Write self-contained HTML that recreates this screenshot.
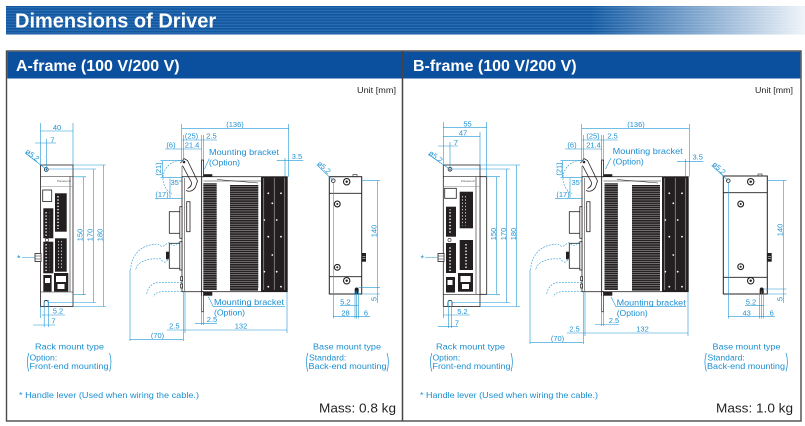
<!DOCTYPE html>
<html><head><meta charset="utf-8"><title>Dimensions of Driver</title>
<style>
html,body{margin:0;padding:0;background:#fff;width:805px;height:426px;overflow:hidden}
svg{display:block}
text{font-family:"Liberation Sans",Arial,sans-serif}
.d{fill:#1d92d3;font-size:7.5px}
.dm{fill:#1d92d3;font-size:7.5px;text-anchor:middle}
.l{fill:#1b8fd2;font-size:8.6px}
</style></head><body>
<svg width="805" height="426" viewBox="0 0 805 426" xmlns="http://www.w3.org/2000/svg">
<defs>
 <pattern id="stripes" width="10" height="2.8" patternUnits="userSpaceOnUse">
  <rect width="10" height="2.8" fill="#11579f"/>
  <rect y="1.7" width="10" height="0.9" fill="#3576ba"/>
 </pattern>
 <linearGradient id="fade" x1="0" x2="1" y1="0" y2="0">
  <stop offset="0" stop-color="#fff" stop-opacity="0"/>
  <stop offset="1" stop-color="#fff" stop-opacity="0.93"/>
 </linearGradient>
 <pattern id="fins" width="6" height="2.2" patternUnits="userSpaceOnUse">
  <rect width="6" height="2.2" fill="#231f20"/>
  <rect y="1.7" width="6" height="0.45" fill="#c8c8c8"/>
 </pattern>
 <pattern id="slot" width="4" height="3.2" patternUnits="userSpaceOnUse">
  <rect width="4" height="3.2" fill="#231f20"/>
  <rect x="1.2" y="1" width="1.6" height="1.2" fill="#fff"/>
 </pattern>
</defs>

<!-- Title band -->
<rect x="6" y="6" width="799" height="28.5" fill="url(#stripes)"/>
<rect x="590" y="6" width="215" height="28.5" fill="url(#fade)"/>
<text x="15" y="27.7" font-size="20" font-weight="bold" fill="#fff">Dimensions of Driver</text>

<!-- Panels -->
<rect x="6.5" y="51" width="794.5" height="370" fill="#fff" stroke="#4a4a4a" stroke-width="1.4"/>
<rect x="7.2" y="51.7" width="793.1" height="26.8" fill="#0b4f9f"/>
<line x1="402.5" y1="51" x2="402.5" y2="421" stroke="#444" stroke-width="1.5"/>
<text x="16" y="71" font-size="16" font-weight="bold" fill="#fff">A-frame (100 V/200 V)</text>
<text x="413" y="71" font-size="16" font-weight="bold" fill="#fff">B-frame (100 V/200 V)</text>
<text x="357" y="93" font-size="8.5" fill="#231f20" textLength="39" lengthAdjust="spacingAndGlyphs">Unit [mm]</text>
<text x="755" y="93" font-size="8.5" fill="#231f20" textLength="38" lengthAdjust="spacingAndGlyphs">Unit [mm]</text>

<!-- ================= A FRAME ================= -->
<!-- Front view A -->
<g stroke="#231f20" stroke-width="0.8" fill="#fff">
 <rect x="40.5" y="165" width="32.5" height="141.5"/>
 <rect x="35" y="253.5" width="6" height="8"/>
</g>
<path d="M40.5 176.5H73M40.5 292H73M70 176.5V292M35 256H41M35 259H41" stroke="#231f20" stroke-width="0.6" fill="none"/>
<path d="M41 186.7H73" stroke="#888" stroke-width="0.5"/>
<circle cx="46.3" cy="169.5" r="1.9" fill="none" stroke="#231f20" stroke-width="0.8"/>
<circle cx="46.3" cy="169.5" r="0.7" fill="#231f20"/>
<path d="M44.2 306.5V302.5a2.05 2.05 0 0 1 4.1 0V306.5" fill="none" stroke="#231f20" stroke-width="0.8"/>
<rect x="42.7" y="190" width="9" height="11.5" fill="none" stroke="#231f20" stroke-width="0.8"/>
<text x="57" y="182" font-size="3" fill="#555">Panasonic</text>
<g fill="#231f20">
 <rect x="55" y="193.3" width="11.7" height="38.4"/>
 <rect x="43.3" y="208.3" width="10" height="30"/>
 <rect x="55" y="238.3" width="11.7" height="33.4"/>
 <rect x="43.3" y="241.7" width="10" height="31.6"/>
 <rect x="43.3" y="275" width="8.3" height="16.7"/>
 <rect x="54" y="273" width="14.3" height="18.7"/>
</g>
<g fill="url(#slot)">
 <rect x="57" y="196" width="4" height="33"/>
 <rect x="45.3" y="211" width="4" height="25"/>
 <rect x="58" y="241" width="4" height="28"/>
 <rect x="45.3" y="244" width="4" height="27"/>
</g>
<g fill="#fff">
 <rect x="56" y="276" width="10" height="6"/>
 <rect x="57.5" y="284" width="7" height="5"/>
 <rect x="45" y="278" width="5" height="5"/>
</g>
<circle cx="47" cy="240" r="1.6" fill="#fff" stroke="#231f20" stroke-width="0.6"/>

<g stroke="#1f96d3" stroke-width="0.6" fill="none">
 <path d="M40.5 123V165M73 123V165M40.5 131H73M35 143H56M46.3 139V172M25 153L45 168.3"/>
 <path d="M73 165H106M49 169H96M73 176.8H86M73 294.7H86M48.5 302.5H96M73 306.5H106"/>
 <path d="M83.3 176.8V294.7M93.3 169V302.5M103.3 165V306.5"/>
 <path d="M41.7 315H65M33 325H55M40.5 306.5V318M44.2 300V327M48.3 300V327M22 257.5H35"/>
</g>
<text class="dm" x="57" y="129.8">40</text>
<text class="dm" x="52.5" y="142.3">7</text>
<text class="d" transform="translate(25 152.5) rotate(38)">ø5.2</text>
<text class="dm" transform="translate(82.5 235) rotate(-90)">150</text>
<text class="dm" transform="translate(92.5 235) rotate(-90)">170</text>
<text class="dm" transform="translate(102.5 235) rotate(-90)">180</text>
<text class="dm" x="58" y="313.6">5.2</text>
<text class="dm" x="53.5" y="323.6">7</text>
<text x="17" y="261.5" font-size="9" fill="#1b8fd2">*</text>

<!-- Side view A -->
<g id="sideA">
<g stroke="#231f20" stroke-width="0.8" fill="#fff">
 <rect x="182" y="176.7" width="19.7" height="115"/>
 <rect x="201.7" y="176.7" width="85.6" height="115"/>
 <rect x="169.3" y="211.7" width="10.7" height="21.6"/>
 <rect x="179.8" y="206.7" width="2.2" height="31.6"/>
 <rect x="169.3" y="243.3" width="10.7" height="25"/>
 <rect x="179.8" y="241.7" width="2.2" height="28.3"/>
 <rect x="186.7" y="201.7" width="3.3" height="30"/>
 <rect x="201.6" y="160" width="2" height="16.7"/>
 <rect x="201.6" y="291.7" width="2" height="20"/>
 <rect x="180.7" y="276.7" width="1.8" height="4"/>
 <rect x="180.7" y="284" width="1.8" height="4"/>
</g>
<rect x="166" y="251.7" width="3.5" height="7.6" fill="#231f20"/>
<path d="M184.5 178V291M182 166V177M203.5 181H261M217 179.5L258 183" stroke="#231f20" stroke-width="0.5" fill="none"/>
<path d="M180.5 163L184 158.5L187.5 160.5L197.5 181L195.5 187Q192 193 186 190.5M182.5 165.5L191.5 182.5Q192 186.5 187.5 188.5" stroke="#231f20" stroke-width="0.8" fill="none"/>
<circle cx="184" cy="162" r="1.3" fill="#231f20"/>
<rect x="203.3" y="183.3" width="13.4" height="106.7" fill="url(#fins)"/>
<rect x="230" y="185" width="28.3" height="103.3" fill="url(#fins)"/>
<rect x="261" y="176.7" width="26.3" height="115" fill="#231f20"/>
<path d="M263.8 178V290M274.2 178V290M284.8 178V290" stroke="#fff" stroke-width="0.4"/>
<g fill="#fff">
 <circle cx="268.3" cy="193.3" r="0.9"/><circle cx="281" cy="193.3" r="0.9"/>
 <circle cx="272.3" cy="203.3" r="0.9"/><circle cx="264.3" cy="220" r="0.9"/>
 <circle cx="276.7" cy="220" r="0.9"/><circle cx="268.3" cy="236.7" r="0.9"/>
 <circle cx="281" cy="236.7" r="0.9"/><circle cx="272.3" cy="255" r="0.9"/>
 <circle cx="264.3" cy="271.7" r="0.9"/><circle cx="276.7" cy="271.7" r="0.9"/>
 <circle cx="268.3" cy="286.7" r="0.9"/><circle cx="281" cy="286.7" r="0.9"/>
</g>
<rect x="203.3" y="174.2" width="9" height="2.5" fill="#231f20"/>
<rect x="203.3" y="291.7" width="9" height="4" fill="#231f20"/>
<rect x="230" y="288.3" width="28" height="2.3" fill="#231f20"/>
<g stroke="#1f96d3" stroke-width="0.6" fill="none" stroke-dasharray="1.8 1.2">
 <path d="M180 242.5c-3 -1 -4 4 -7 3s-3 -4 -6 -2 -4 4 -7 2 -3 -2 -5 -1C140 245 131 256 130.7 270"/>
 <path d="M170 258c-2 0 -3 5 -6 4s-3 -5 -6 -3C147 258 137 262 135.5 270"/>
 <path d="M181.7 282.7H158C151 283 147 289 146.7 295"/>
 <path d="M181.7 291.7H162C157 292 154 294 153.3 296.7"/>
 <path d="M183 160.5A18 18 0 0 0 172 194"/>
</g>
<g stroke="#1f96d3" stroke-width="0.6" fill="none">
 <path d="M181.7 124V162M288.7 124V176.7M181.7 128.3H288.7M181.7 140H217M165 149H201.7"/>
 <path d="M183.5 135V162M201.7 135V160M203.6 135V160"/>
 <path d="M160.5 160.7H182M160.5 177.3H183M162.3 160.7V177.3M155 198.3H183M170 178.3V198.3"/>
 <path d="M204.5 169L209.3 158.5M276.7 160.7H303.3M285 158V176.7"/>
 <path d="M201.7 296V325M203.6 296V325M195 323.3H217"/>
</g>
</g>
<g stroke="#1f96d3" stroke-width="0.6" fill="none">
 <path d="M208.3 296.7L213.3 306.7H285"/>
 <path d="M130 270V341M183.3 292V341M185 292V333M287 292V333M166.7 330H287M130 339.3H183.3"/>
</g>
<text class="dm" x="235" y="126.8">(136)</text>
<text class="dm" x="191.5" y="138.5">(25)</text>
<text class="dm" x="211.5" y="138.5">2.5</text>
<text class="dm" x="171" y="147.5">(6)</text>
<text class="dm" x="192" y="147.5">21.4</text>
<text class="dm" x="297" y="158.8">3.5</text>
<text class="dm" transform="translate(161 169) rotate(-90)">(21)</text>
<text class="d" x="170.5" y="185">35°</text>
<text class="dm" x="162" y="196.8">(17)</text>
<text class="dm" x="212" y="321.8">2.5</text>
<text class="dm" x="174.3" y="328.5">2.5</text>
<text class="dm" x="241" y="328.5">132</text>
<text class="dm" x="157.5" y="337.8">(70)</text>
<text class="l" x="209" y="155" textLength="70" lengthAdjust="spacingAndGlyphs">Mounting bracket</text>
<text class="l" x="209" y="165.3">(Option)</text>
<text class="l" x="214" y="305" textLength="70" lengthAdjust="spacingAndGlyphs">Mounting bracket</text>
<text class="l" x="214" y="315.5">(Option)</text>

<!-- Base view A -->
<rect x="329.3" y="176.7" width="32.4" height="117.3" stroke="#231f20" stroke-width="1" fill="#fff"/>
<path d="M329.3 193.3H361.7M329.3 276.7H361.7" stroke="#231f20" stroke-width="0.8"/>
<rect x="353" y="174.5" width="4" height="2.2" fill="none" stroke="#231f20" stroke-width="0.6"/>
<circle cx="333.3" cy="180.7" r="1.8" fill="none" stroke="#231f20" stroke-width="0.8"/>
<g fill="#fff" stroke="#231f20" stroke-width="1.1">
 <circle cx="346.7" cy="181.7" r="3.2"/><circle cx="337.3" cy="204" r="2.9"/>
 <circle cx="337.3" cy="267.3" r="2.9"/><circle cx="346.7" cy="280.7" r="3.2"/>
</g>
<g fill="#231f20">
 <circle cx="346.7" cy="181.7" r="1.2"/><circle cx="337.3" cy="204" r="1"/>
 <circle cx="337.3" cy="267.3" r="1"/><circle cx="346.7" cy="280.7" r="1.2"/>
 <path d="M354.7 294V289.5a2 2 0 0 1 4 0V294Z"/>
 <rect x="361.7" y="253" width="4.3" height="8.7"/>
</g>
<path d="M362.5 256.5H365.5M362.5 258.5H365.5" stroke="#fff" stroke-width="0.6"/>
<g stroke="#1f96d3" stroke-width="0.6" fill="none">
 <path d="M316.7 164.8L333.3 180.7M361.7 180.7H380M358.7 287.3H380M361.7 294H380M377.3 180.7V287.3M377.3 287.3V303"/>
 <path d="M333.3 183V318.5M355 291V318.5M356.7 291V318.5M358.3 291V318.5M340 305.7H358.3M333.3 316.7H370"/>
</g>
<text class="d" transform="translate(316.7 164.2) rotate(42)">ø5.2</text>
<text class="dm" transform="translate(376.5 231) rotate(-90)">140</text>
<text class="dm" transform="translate(376.5 299) rotate(-90)">5</text>
<text class="dm" x="345.3" y="304.3">5.2</text>
<text class="dm" x="345.5" y="315.3">28</text>
<text class="dm" x="366" y="315.3">6</text>

<!-- Bottom texts A -->
<text class="l" x="35" y="349.5" textLength="69" lengthAdjust="spacingAndGlyphs">Rack mount type</text>
<text class="l" x="29.5" y="360.5">Option:</text>
<text class="l" x="29.5" y="369" textLength="79" lengthAdjust="spacingAndGlyphs">Front-end mounting</text>
<path d="M28.8 353Q26 362 28.8 371.5M109.6 353Q112.4 362 109.6 371.5" stroke="#1b8fd2" stroke-width="0.7" fill="none"/>
<text class="l" x="313" y="349.5" textLength="68" lengthAdjust="spacingAndGlyphs">Base mount type</text>
<text class="l" x="309" y="360.5">Standard:</text>
<text class="l" x="308.5" y="369" textLength="78" lengthAdjust="spacingAndGlyphs">Back-end mounting</text>
<path d="M307.8 353Q305 362 307.8 371.5M387 353Q389.8 362 387 371.5" stroke="#1b8fd2" stroke-width="0.7" fill="none"/>
<text class="l" x="19" y="398" textLength="180" lengthAdjust="spacingAndGlyphs">* Handle lever (Used when wiring the cable.)</text>
<text x="319" y="412.5" font-size="13" fill="#231f20" textLength="77" lengthAdjust="spacingAndGlyphs">Mass: 0.8 kg</text>

<!-- ================= B FRAME ================= -->
<!-- Front view B -->
<g stroke="#231f20" stroke-width="0.8" fill="#fff">
 <rect x="480" y="176.7" width="6.7" height="117.6"/>
 <rect x="443.3" y="165" width="36.7" height="141.5"/>
 <rect x="438" y="253.5" width="6" height="8"/>
</g>
<path d="M443.3 176.7H486.7M443.3 294.3H486.7M476 176.7V294.3M438 256H444M438 259H444" stroke="#231f20" stroke-width="0.6" fill="none"/>
<path d="M444 186.7H480" stroke="#888" stroke-width="0.5"/>
<circle cx="450" cy="169.3" r="1.9" fill="none" stroke="#231f20" stroke-width="0.8"/>
<circle cx="450" cy="169.3" r="0.7" fill="#231f20"/>
<path d="M448 306.5V302.5a2 2 0 0 1 4 0V306.5" fill="none" stroke="#231f20" stroke-width="0.8"/>
<rect x="444.7" y="188.3" width="11.6" height="10" fill="none" stroke="#231f20" stroke-width="0.8"/>
<text x="461" y="182" font-size="3" fill="#555">Panasonic</text>
<g fill="#231f20">
 <rect x="459.7" y="191.7" width="13.3" height="36.6"/>
 <rect x="446" y="206.7" width="10" height="30"/>
 <rect x="446" y="243" width="10" height="30"/>
 <rect x="459.7" y="240" width="13.3" height="30"/>
 <rect x="458" y="273" width="15" height="18.7"/>
 <rect x="446" y="277" width="9" height="15.5"/>
</g>
<g fill="url(#slot)">
 <rect x="462" y="194.5" width="4" height="31"/>
 <rect x="448" y="209.5" width="4" height="25"/>
 <rect x="448" y="246" width="4" height="25"/>
 <rect x="463" y="243" width="4" height="25"/>
</g>
<g fill="#fff">
 <rect x="460.5" y="276" width="10" height="6"/>
 <rect x="462" y="284" width="7" height="5"/>
 <rect x="447.5" y="280" width="5" height="5"/>
</g>
<circle cx="449.5" cy="240" r="1.6" fill="#fff" stroke="#231f20" stroke-width="0.6"/>

<g stroke="#1f96d3" stroke-width="0.6" fill="none">
 <path d="M443.3 122V165M486.7 122V176.7M480 132V165M443.3 127.3H486.7M443.3 136.7H480M438 146H458M450 142V171M428.3 154.5L448.5 168.3"/>
 <path d="M480 165H520M452.5 169H510M486.7 176.7H500M486.7 294.3H500M452 302.5H510M480 306.5H520"/>
 <path d="M496.7 176.7V294.3M506.7 169V302.5M516.7 165V306.5"/>
 <path d="M443.3 315H470M438 326.7H458M443.3 306.5V318M448.3 300V328M451.7 300V328M425 257.5H438"/>
</g>
<text class="dm" x="467.5" y="126.3">55</text>
<text class="dm" x="463" y="135.6">47</text>
<text class="dm" x="456" y="144.8">7</text>
<text class="d" transform="translate(428.3 154) rotate(38)">ø5.2</text>
<text class="dm" transform="translate(495.8 234) rotate(-90)">150</text>
<text class="dm" transform="translate(505.8 234) rotate(-90)">170</text>
<text class="dm" transform="translate(515.8 234) rotate(-90)">180</text>
<text class="dm" x="462.5" y="313.8">5.2</text>
<text class="dm" x="457" y="325.3">7</text>
<text x="420.5" y="261.5" font-size="9" fill="#1b8fd2">*</text>

<!-- Side view B -->
<g transform="translate(400 0)">
<g stroke="#231f20" stroke-width="0.8" fill="#fff">
 <rect x="182" y="176.7" width="19.7" height="115"/>
 <rect x="201.7" y="176.7" width="86.6" height="115"/>
 <rect x="169.3" y="211.7" width="10.7" height="21.6"/>
 <rect x="179.8" y="206.7" width="2.2" height="31.6"/>
 <rect x="169.3" y="243.3" width="10.7" height="25"/>
 <rect x="179.8" y="241.7" width="2.2" height="28.3"/>
 <rect x="186.7" y="201.7" width="3.3" height="30"/>
 <rect x="201.6" y="160" width="2" height="16.7"/>
 <rect x="201.6" y="291.7" width="2" height="20"/>
 <rect x="180.7" y="276.7" width="1.8" height="4"/>
 <rect x="180.7" y="284" width="1.8" height="4"/>
</g>
<rect x="166" y="251.7" width="3.5" height="7.6" fill="#231f20"/>
<path d="M184.5 178V291M182 166V177M203.5 181H261M217 179.5L258 183" stroke="#231f20" stroke-width="0.5" fill="none"/>
<path d="M180.5 163L184 158.5L187.5 160.5L197.5 181L195.5 187Q192 193 186 190.5M182.5 165.5L191.5 182.5Q192 186.5 187.5 188.5" stroke="#231f20" stroke-width="0.8" fill="none"/>
<circle cx="184" cy="162" r="1.3" fill="#231f20"/>
<rect x="204.5" y="183.3" width="13.4" height="106.7" fill="url(#fins)"/>
<rect x="232" y="185" width="28" height="103.3" fill="url(#fins)"/>
<rect x="262" y="176.7" width="26.3" height="115" fill="#231f20"/>
<path d="M264.8 178V290M275.2 178V290M285.8 178V290" stroke="#fff" stroke-width="0.4"/>
<g fill="#fff">
 <circle cx="269.3" cy="193.3" r="0.9"/><circle cx="282" cy="193.3" r="0.9"/>
 <circle cx="273.3" cy="203.3" r="0.9"/><circle cx="265.3" cy="220" r="0.9"/>
 <circle cx="277.7" cy="220" r="0.9"/><circle cx="269.3" cy="236.7" r="0.9"/>
 <circle cx="282" cy="236.7" r="0.9"/><circle cx="273.3" cy="255" r="0.9"/>
 <circle cx="265.3" cy="271.7" r="0.9"/><circle cx="277.7" cy="271.7" r="0.9"/>
 <circle cx="269.3" cy="286.7" r="0.9"/><circle cx="282" cy="286.7" r="0.9"/>
</g>
<rect x="203.3" y="174.2" width="9" height="2.5" fill="#231f20"/>
<rect x="203.3" y="291.7" width="9" height="4" fill="#231f20"/>
<rect x="232" y="288.3" width="28" height="2.3" fill="#231f20"/>
<g stroke="#1f96d3" stroke-width="0.6" fill="none" stroke-dasharray="1.8 1.2">
 <path d="M180 242.5c-3 -1 -4 4 -7 3s-3 -4 -6 -2 -4 4 -7 2 -3 -2 -5 -1C140 245 131 256 130.7 270"/>
 <path d="M170 258c-2 0 -3 5 -6 4s-3 -5 -6 -3C147 258 137 262 135.5 270"/>
 <path d="M181.7 282.7H158C151 283 147 289 146.7 295"/>
 <path d="M181.7 291.7H162C157 292 154 294 153.3 296.7"/>
 <path d="M183 160.5A18 18 0 0 0 172 194"/>
</g>
<g stroke="#1f96d3" stroke-width="0.6" fill="none">
 <path d="M181.7 124V162M289.3 124V176.7M181.7 128.3H289.3M181.7 140H218M165 149H201.7"/>
 <path d="M183.5 135V162M201.7 135V160M203.6 135V160"/>
 <path d="M160.5 160.7H182M160.5 177.3H183M162.3 160.7V177.3M155 198.3H183M170 178.3V198.3"/>
 <path d="M205.5 169L211 158M277 161.7H303.3M285.5 159V176.7"/>
 <path d="M201.7 296V326M203.6 296V326M195 324.5H219"/>
 <path d="M211 296.7L216 306.7H286"/>
 <path d="M130 270V344M183.3 292V344M185 292V336M288 292V336M166.7 333H288M130 342.3H183.3"/>
</g>
<text class="dm" x="236" y="126.8">(136)</text>
<text class="dm" x="193" y="138.5">(25)</text>
<text class="dm" x="212.5" y="138.5">2.5</text>
<text class="dm" x="172" y="147.5">(6)</text>
<text class="dm" x="193.5" y="147.5">21.4</text>
<text class="dm" x="297.7" y="159.5">3.5</text>
<text class="dm" transform="translate(161.5 169) rotate(-90)">(21)</text>
<text class="d" x="171.5" y="185">35°</text>
<text class="dm" x="163" y="196.8">(17)</text>
<text class="dm" x="214" y="323">2.5</text>
<text class="dm" x="174.5" y="331.5">2.5</text>
<text class="dm" x="242.5" y="331.5">132</text>
<text class="dm" x="157.5" y="340.8">(70)</text>
<text class="l" x="212.7" y="154" textLength="70" lengthAdjust="spacingAndGlyphs">Mounting bracket</text>
<text class="l" x="212.7" y="164.3">(Option)</text>
<text class="l" x="216.7" y="305.3" textLength="69" lengthAdjust="spacingAndGlyphs">Mounting bracket</text>
<text class="l" x="216.7" y="315.8">(Option)</text>
</g>

<!-- Base view B -->
<rect x="723.3" y="176" width="44" height="118" stroke="#231f20" stroke-width="1" fill="#fff"/>
<path d="M723.3 192.7H767.3M723.3 277.3H767.3" stroke="#231f20" stroke-width="0.8"/>
<rect x="758" y="174" width="4" height="2.2" fill="none" stroke="#231f20" stroke-width="0.6"/>
<circle cx="728.3" cy="180.7" r="1.8" fill="none" stroke="#231f20" stroke-width="0.8"/>
<g fill="#fff" stroke="#231f20" stroke-width="1.1">
 <circle cx="750.7" cy="181.7" r="3.2"/><circle cx="740.7" cy="204" r="2.9"/>
 <circle cx="740.7" cy="266.7" r="2.9"/><circle cx="750.7" cy="280.7" r="3.2"/>
</g>
<g fill="#231f20">
 <circle cx="750.7" cy="181.7" r="1.2"/><circle cx="740.7" cy="204" r="1"/>
 <circle cx="740.7" cy="266.7" r="1"/><circle cx="750.7" cy="280.7" r="1.2"/>
 <path d="M759.7 294V289.5a2 2 0 0 1 4 0V294Z"/>
 <rect x="767.3" y="253" width="4.4" height="8.7"/>
</g>
<path d="M768 256.5H771M768 258.5H771" stroke="#fff" stroke-width="0.6"/>
<g stroke="#1f96d3" stroke-width="0.6" fill="none">
 <path d="M711.7 165.5L728.3 180.7M767.3 180.7H786.5M763.7 289H786.5M767.3 294H786.5M783.3 180.7V289M783.3 289V303"/>
 <path d="M728.3 183V318.5M759.7 291V318.5M761.7 291V318.5M763.7 291V318.5M745 305.7H763.7M728.3 316.7H775"/>
</g>
<text class="d" transform="translate(711.7 165) rotate(42)">ø5.2</text>
<text class="dm" transform="translate(782.3 230) rotate(-90)">140</text>
<text class="dm" transform="translate(782.3 299) rotate(-90)">5</text>
<text class="dm" x="751" y="304.3">5.2</text>
<text class="dm" x="746.7" y="315.3">43</text>
<text class="dm" x="771.7" y="315.3">6</text>

<!-- Bottom texts B -->
<text class="l" x="436" y="349.5" textLength="69" lengthAdjust="spacingAndGlyphs">Rack mount type</text>
<text class="l" x="432.5" y="360.5">Option:</text>
<text class="l" x="432.5" y="369" textLength="78" lengthAdjust="spacingAndGlyphs">Front-end mounting</text>
<path d="M431.8 353Q429 362 431.8 371.5M511 353Q513.8 362 511 371.5" stroke="#1b8fd2" stroke-width="0.7" fill="none"/>
<text class="l" x="712.5" y="349.5" textLength="68" lengthAdjust="spacingAndGlyphs">Base mount type</text>
<text class="l" x="707.5" y="360.5">Standard:</text>
<text class="l" x="707" y="369" textLength="78" lengthAdjust="spacingAndGlyphs">Back-end mounting</text>
<path d="M706.3 353Q703.5 362 706.3 371.5M786 353Q788.8 362 786 371.5" stroke="#1b8fd2" stroke-width="0.7" fill="none"/>
<text class="l" x="420" y="398" textLength="178" lengthAdjust="spacingAndGlyphs">* Handle lever (Used when wiring the cable.)</text>
<text x="716" y="412.5" font-size="13" fill="#231f20" textLength="77" lengthAdjust="spacingAndGlyphs">Mass: 1.0 kg</text>
</svg>
</body></html>
